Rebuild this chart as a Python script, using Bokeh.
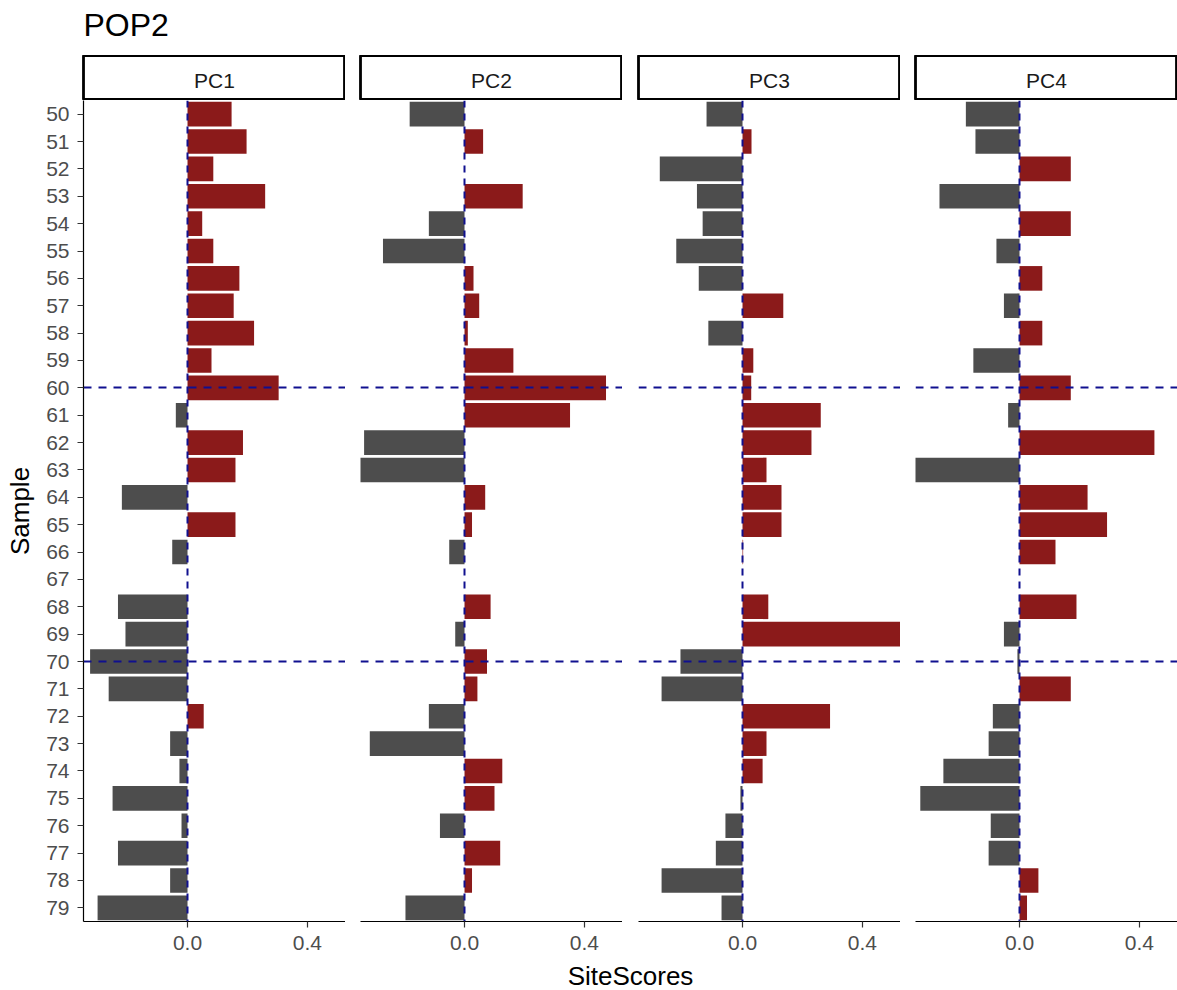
from bokeh.plotting import figure
from bokeh.layouts import row, column
from bokeh.models import FactorRange, Range1d, FixedTicker, NumeralTickFormatter, ColumnDataSource
from bokeh.embed import file_html
from bokeh.resources import INLINE
from bokeh.core.properties import value

# ---------------- data ----------------
samples = [str(i) for i in range(50, 80)]

pc1 = [0.147, 0.197, 0.086, 0.259, 0.049, 0.086, 0.173, 0.154, 0.222, 0.080,
       0.304, -0.039, 0.185, 0.160, -0.219, 0.160, -0.051, 0.0, -0.232, -0.207,
       -0.325, -0.263, 0.054, -0.058, -0.027, -0.250, -0.020, -0.232, -0.058, -0.300]
pc2 = [-0.183, 0.062, 0.0, 0.194, -0.119, -0.272, 0.030, 0.049, 0.011, 0.163,
       0.472, 0.352, -0.335, -0.361, 0.069, 0.025, -0.051, 0.0, 0.087, -0.031,
       0.075, 0.043, -0.119, -0.316, 0.126, 0.100, -0.082, 0.119, 0.025, -0.197]
pc3 = [-0.120, 0.030, -0.276, -0.152, -0.133, -0.221, -0.146, 0.136, -0.114, 0.036,
       0.029, 0.261, 0.230, 0.080, 0.130, 0.130, 0.002, 0.0, 0.086, 0.529,
       -0.207, -0.270, 0.292, 0.080, 0.067, -0.007, -0.057, -0.089, -0.270, -0.070]
pc4 = [-0.179, -0.147, 0.171, -0.267, 0.171, -0.077, 0.076, -0.052, 0.076, -0.154,
       0.171, -0.038, 0.450, -0.349, 0.227, 0.292, 0.120, 0.0, 0.190, -0.052,
       -0.007, 0.171, -0.089, -0.103, -0.254, -0.331, -0.096, -0.103, 0.063, 0.025]

panel_names = ["PC1", "PC2", "PC3", "PC4"]
panel_values = [pc1, pc2, pc3, pc4]
x_ticks = [0.0, 0.4]
hline_samples = ["60", "70"]
vline_x = [0.0]
title_text = "POP2"
x_title = "SiteScores"
y_title = "Sample"

# ---------------- style ----------------
FONT = "Liberation Sans"
POS = "#8B1A1A"
NEG = "#4D4D4D"
LINE_BLUE = "#10108F"
X_MIN, X_MAX = -0.347, 0.527
FRAME_W = 262
FRAME_H = 821
borders = [83, 15, 16, 15]


def text_fig(height, txt, size, x, y, align, baseline):
    f = figure(frame_width=1094, frame_height=height,
               x_range=Range1d(0, 1), y_range=Range1d(0, height),
               min_border_left=83, min_border_right=0,
               min_border_top=0, min_border_bottom=0,
               toolbar_location=None, output_backend="svg",
               x_axis_location=None, y_axis_location=None)
    f.grid.visible = False
    f.outline_line_color = None
    f.background_fill_color = "white"
    f.border_fill_color = "white"
    f.text(x=[x], y=[y], text=[txt], text_align=align,
           text_baseline=baseline, text_font=value(FONT),
           text_font_size=size, text_color="black")
    return f


def strip_fig(name, border_left):
    s = figure(frame_width=FRAME_W, frame_height=45,
               x_range=Range1d(0, 1), y_range=Range1d(0, 1),
               min_border_left=border_left, min_border_right=0,
               min_border_top=0, min_border_bottom=0,
               toolbar_location=None, output_backend="svg",
               x_axis_location=None, y_axis_location=None)
    s.grid.visible = False
    s.outline_line_color = "black"
    s.outline_line_width = 2.8
    s.background_fill_color = "white"
    s.border_fill_color = "white"
    s.text(x=[0.5], y=[0.45], text=[name], text_align="center",
           text_baseline="middle", text_font=value(FONT),
           text_font_size="21px", text_color="#1A1A1A")
    return s


def panel_fig(vals, border_left, first):
    p = figure(frame_width=FRAME_W, frame_height=FRAME_H,
               x_range=Range1d(X_MIN, X_MAX),
               y_range=FactorRange(factors=list(reversed(samples))),
               min_border_left=border_left, min_border_right=0,
               min_border_top=0, min_border_bottom=40,
               toolbar_location=None, output_backend="svg",
               y_axis_location="left" if first else None)
    p.grid.visible = False
    p.outline_line_color = None
    p.background_fill_color = "white"
    p.border_fill_color = "white"

    colors = [POS if v > 0 else NEG for v in vals]
    src = ColumnDataSource(dict(y=samples, v=vals, c=colors))
    p.hbar(y="y", left=0, right="v", height=0.9, fill_color="c",
           line_color=None, source=src)

    p.vspan(x=vline_x, line_color=LINE_BLUE, line_width=2, line_dash="7 6")
    p.hspan(y=hline_samples, line_color=LINE_BLUE, line_width=1.8, line_dash="8 7")

    xa = p.xaxis[0]
    xa.ticker = FixedTicker(ticks=x_ticks)
    xa.formatter = NumeralTickFormatter(format="0.0")
    xa.axis_line_color = "black"
    xa.axis_line_width = 1.2
    xa.major_tick_line_color = "#333333"
    xa.major_tick_line_width = 1.2
    xa.major_tick_out = 6
    xa.major_tick_in = 0
    xa.minor_tick_out = 0
    xa.minor_tick_in = 0
    xa.major_label_text_font = FONT
    xa.major_label_text_font_size = "21px"
    xa.major_label_text_color = "#4D4D4D"
    xa.major_label_standoff = 8

    if first:
        ya = p.yaxis[0]
        ya.axis_line_color = "black"
        ya.axis_line_width = 1.2
        ya.major_tick_line_color = "#333333"
        ya.major_tick_line_width = 1.2
        ya.major_tick_out = 6
        ya.major_tick_in = 0
        ya.major_label_text_font = FONT
        ya.major_label_text_font_size = "21px"
        ya.major_label_text_color = "#4D4D4D"
        ya.major_label_standoff = 8
        ya.axis_label = y_title
        ya.axis_label_text_font = FONT
        ya.axis_label_text_font_size = "26px"
        ya.axis_label_text_font_style = "normal"
        ya.axis_label_text_color = "black"
        ya.axis_label_standoff = 8
    return p


top = text_fig(55, title_text, "32px", 0.0, 31, "left", "alphabetic")
strips = [strip_fig(n, b) for n, b in zip(panel_names, borders)]
panels = [panel_fig(v, b, i == 0) for i, (v, b) in enumerate(zip(panel_values, borders))]
bottom = text_fig(29, x_title, "26px", 0.5, 14.5, "center", "middle")

layout = column(top, row(*strips), row(*panels), bottom)

with open("out.html", "w") as f:
    f.write(file_html(layout, INLINE))
